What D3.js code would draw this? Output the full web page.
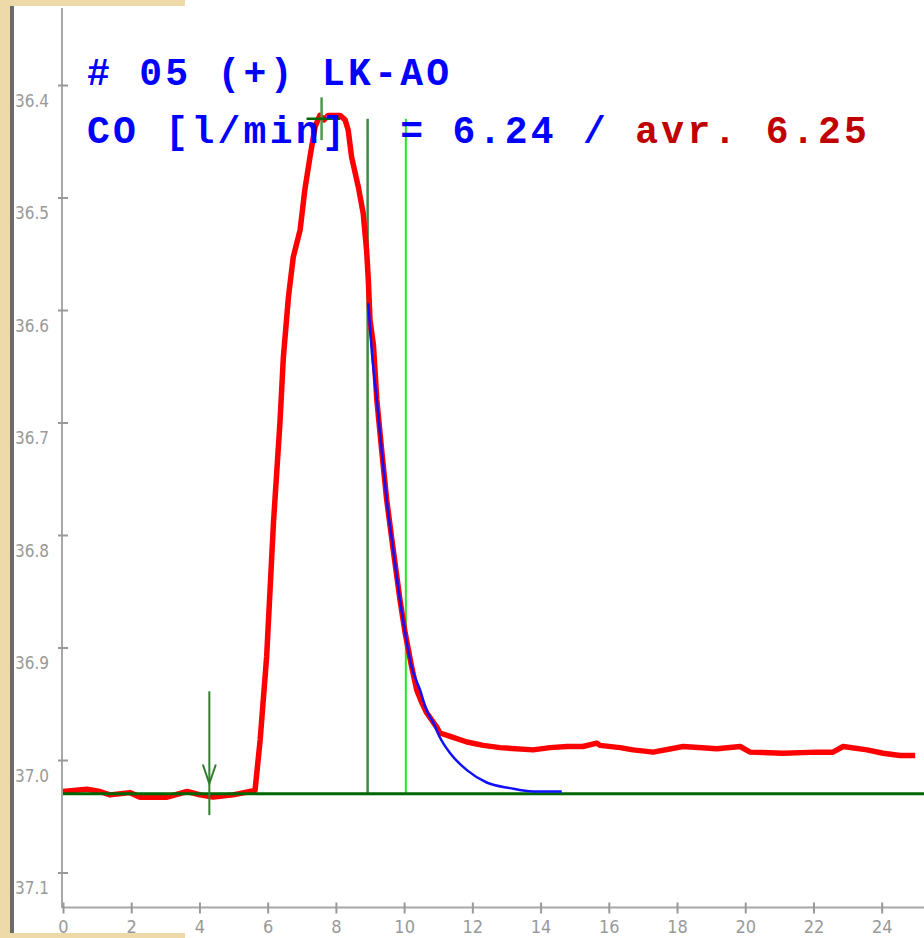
<!DOCTYPE html>
<html>
<head>
<meta charset="utf-8">
<script src="https://cdn.jsdelivr.net/npm/d3@7"></script>
<style>
  body { margin: 0; background: #fff; }
  svg { display: block; }
</style>
</head>
<body>
<svg id="canvas" width="924" height="938"></svg>
<script>
// measured curve: time [s] / blood temperature [°C]
const redTime = [0, 0.70, 1.08, 1.38, 1.96, 2.26, 3.05, 3.64, 4.02, 4.40, 4.98, 5.48, 5.63,
  5.78, 5.97, 6.17, 6.36, 6.46, 6.61, 6.75, 6.95, 7.09, 7.24, 7.39, 7.53, 7.65, 7.77, 8.12,
  8.27, 8.36, 8.46, 8.66, 8.80, 8.90, 8.95, 9.00, 9.10, 9.20, 9.34, 9.49, 9.68, 9.88, 10.03,
  10.22, 10.37, 10.52, 10.66, 10.96, 11.05, 11.35, 11.84, 12.32, 12.81, 13.78, 14.28, 14.77,
  15.24, 15.65, 15.74, 16.33, 16.71, 17.30, 18.18, 19.17, 19.85, 20.14, 21.11, 22.10, 22.57,
  22.87, 23.57, 24.04, 24.54, 24.98]
const redTemp = [37.028, 37.026, 37.028, 37.031, 37.029, 37.033, 37.033, 37.028, 37.031, 37.033,
  37.031, 37.028, 37.027, 36.982, 36.908, 36.789, 36.700, 36.642, 36.588, 36.553, 36.529, 36.493,
  36.464, 36.437, 36.427, 36.431, 36.427, 36.427, 36.431, 36.440, 36.464, 36.491, 36.514, 36.547,
  36.573, 36.609, 36.631, 36.680, 36.724, 36.769, 36.813, 36.858, 36.887, 36.917, 36.938, 36.949,
  36.958, 36.971, 36.976, 36.979, 36.984, 36.987, 36.989, 36.991, 36.989, 36.988, 36.988, 36.985,
  36.987, 36.989, 36.991, 36.993, 36.988, 36.990, 36.988, 36.993, 36.994, 36.993, 36.993, 36.988,
  36.991, 36.994, 36.996, 36.996]

// fitted decay
const fitTime = [8.95, 9.05, 9.20, 9.34, 9.49, 9.68, 9.88, 10.03, 10.22, 10.47, 10.66, 10.86,
  11.05, 11.35, 11.84, 12.42, 13.10, 13.79, 14.62]
const fitTemp = [36.594, 36.636, 36.680, 36.724, 36.769, 36.813, 36.858, 36.887, 36.917, 36.938,
  36.956, 36.967, 36.980, 36.994, 37.009, 37.020, 37.025, 37.028, 37.028]

const baseline = 37.03
const injectTime = 4.29
const peakTime = 7.58
const peakTemp = 36.43
const fitStart = 8.93
const fitEnd = 10.05

const xTicks = [0, 2, 4, 6, 8, 10, 12, 14, 16, 18, 20, 22, 24]
const yTicks = [36.4, 36.5, 36.6, 36.7, 36.8, 36.9, 37.0, 37.1]

let canvas = d3.select('#canvas')

let x = d3.scaleLinear().domain([0, 24]).range([63, 881.7])
let y = d3.scaleLinear().domain([36.4, 37.1]).range([85, 872.5])

// paper frame
canvas.append('rect').attr('x', 0).attr('y', 0).attr('width', 10).attr('height', 938).attr('fill', '#eedaa8')
canvas.append('rect').attr('x', 0).attr('y', 0).attr('width', 185).attr('height', 6).attr('fill', '#eedaa8')
canvas.append('rect').attr('x', 0).attr('y', 933).attr('width', 185).attr('height', 5).attr('fill', '#eedaa8')
canvas.append('rect').attr('x', 10).attr('y', 6).attr('width', 4).attr('height', 927).attr('fill', '#6b6b6b')

const axisGray = '#a8a8a8'
const labelFont = '"Liberation Sans Narrow", "DejaVu Sans Condensed", sans-serif'

// y axis
canvas.append('line')
    .attr('x1', 62).attr('x2', 62).attr('y1', 8).attr('y2', 908)
    .attr('stroke', axisGray).attr('stroke-width', 2)

let yAxis = canvas.append('g')
    .attr('transform', 'translate(62,0)')
    .call(d3.axisLeft(y).tickValues(yTicks).tickFormat(d3.format('.1f')).tickSize(4))
yAxis.select('.domain').remove()
yAxis.selectAll('.tick line').attr('x1', -4).attr('x2', 6).attr('stroke', '#999').attr('stroke-width', 2)
yAxis.selectAll('.tick text')
    .attr('x', -47).attr('dy', 21).attr('text-anchor', 'start')
    .attr('fill', '#999').style('font-family', labelFont).style('font-size', '17px')

// x axis
canvas.append('line')
    .attr('x1', 62).attr('x2', 924).attr('y1', 907.5).attr('y2', 907.5)
    .attr('stroke', axisGray).attr('stroke-width', 2)

let xAxis = canvas.append('g')
    .attr('transform', 'translate(0,907.5)')
    .call(d3.axisBottom(x).tickValues(xTicks).tickSize(5))
xAxis.select('.domain').remove()
xAxis.selectAll('.tick line').attr('y1', -5).attr('y2', 6).attr('stroke', '#999').attr('stroke-width', 2)
xAxis.selectAll('.tick text')
    .attr('y', 25).attr('dy', 0)
    .attr('fill', '#999').style('font-family', labelFont).style('font-size', '18px')

// fit window lines
canvas.append('line')
    .attr('x1', x(fitStart)).attr('x2', x(fitStart))
    .attr('y1', y(peakTemp)).attr('y2', y(baseline))
    .attr('stroke', '#3f8a3f').attr('stroke-width', 2.5)
canvas.append('line')
    .attr('x1', x(fitEnd)).attr('x2', x(fitEnd))
    .attr('y1', y(peakTemp)).attr('y2', y(baseline))
    .attr('stroke', '#22e622').attr('stroke-width', 2)

// measured curve
canvas.append('path')
    .datum(d3.zip(redTime, redTemp))
    .attr('d', d3.line().x(d => x(d[0])).y(d => y(d[1])))
    .attr('fill', 'none')
    .attr('stroke', '#ff0000')
    .attr('stroke-width', 5.5)
    .attr('stroke-linejoin', 'round')

// baseline
canvas.append('line')
    .attr('x1', 63).attr('x2', 924)
    .attr('y1', y(baseline)).attr('y2', y(baseline))
    .attr('stroke', '#006600').attr('stroke-width', 3)

// fitted curve
canvas.append('path')
    .datum(d3.zip(fitTime, fitTemp))
    .attr('d', d3.line().x(d => x(d[0])).y(d => y(d[1])).curve(d3.curveMonotoneX))
    .attr('fill', 'none')
    .attr('stroke', '#1010ff')
    .attr('stroke-width', 2.5)

// injection marker
let ix = x(injectTime)
canvas.append('line')
    .attr('x1', ix).attr('x2', ix).attr('y1', y(36.939)).attr('y2', y(37.049))
    .attr('stroke', '#2f7f2f').attr('stroke-width', 2)
canvas.append('path')
    .attr('d', 'M' + (ix - 6.5) + ',' + y(37.004) + 'L' + ix + ',' + y(37.021) + 'L' + (ix + 6.5) + ',' + y(37.004))
    .attr('fill', 'none').attr('stroke', '#2f7f2f').attr('stroke-width', 2)

// peak marker
canvas.append('line')
    .attr('x1', x(peakTime)).attr('x2', x(peakTime)).attr('y1', y(36.411)).attr('y2', y(36.449))
    .attr('stroke', '#4a9a4a').attr('stroke-width', 2.5)
canvas.append('line')
    .attr('x1', x(7.14)).attr('x2', x(8.12)).attr('y1', y(peakTemp)).attr('y2', y(peakTemp))
    .attr('stroke', '#006600').attr('stroke-width', 2.5)

// header text
const monoFont = '"Liberation Mono", "DejaVu Sans Mono", monospace'
canvas.append('text')
    .attr('x', 87).attr('y', 85)
    .attr('fill', '#0000ff')
    .style('font-family', monoFont).style('font-size', '38px').style('font-weight', 'bold')
    .style('letter-spacing', '3.3px')
    .text('# 05 (+) LK-AO')

let line2 = canvas.append('text')
    .attr('x', 87).attr('y', 143)
    .style('font-family', monoFont).style('font-size', '38px').style('font-weight', 'bold')
    .style('letter-spacing', '3.3px')
    .attr('xml:space', 'preserve')
    .style('white-space', 'pre')
line2.append('tspan').attr('fill', '#0000ff').text('CO [l/min]  = 6.24 / ')
line2.append('tspan').attr('fill', '#c00000').text('avr. 6.25')
</script>
</body>
</html>
